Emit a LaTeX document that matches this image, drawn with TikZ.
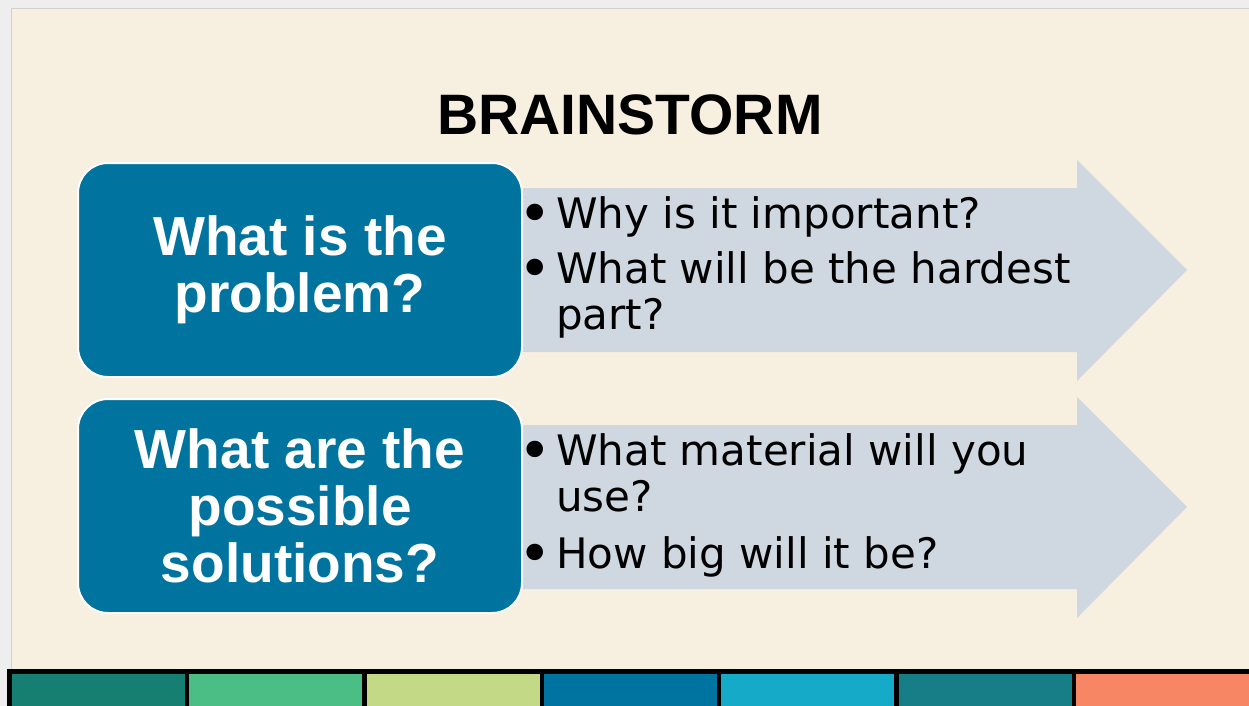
\documentclass[tikz,border=0pt]{standalone}
\usepackage{fontspec}
\usepackage{graphicx}
\setmainfont{Liberation Sans}
\newfontfamily\bulletfont{DejaVu Sans}
\newcommand{\dotmark}{\llap{\makebox[42pt][c]{\raisebox{-5pt}{\scalebox{1.35}{\textbullet}}}}}
\definecolor{outerbg}{HTML}{EEEEEE}
\definecolor{slidebg}{HTML}{F7EFDF}
\definecolor{boxblue}{HTML}{00739F}
\definecolor{arrowgray}{HTML}{CFD8E1}
\definecolor{stripA}{HTML}{167F72}
\definecolor{stripB}{HTML}{4BBE86}
\definecolor{stripC}{HTML}{C3D985}
\definecolor{stripD}{HTML}{0074A0}
\definecolor{stripE}{HTML}{14AAC8}
\definecolor{stripF}{HTML}{177D87}
\definecolor{stripG}{HTML}{F68664}

\begin{document}
\begin{tikzpicture}[
    x=1pt, y=-1pt,
    question/.style={
        rounded corners=30pt,
        fill=boxblue, draw=white, line width=2pt,
        minimum width=444pt, minimum height=214pt,
        text=white, align=center,
        font=\bfseries\fontsize{55}{57}\selectfont
    },
    bullet/.style={
        anchor=base west, inner sep=0pt, align=left,
        font=\bulletfont\fontsize{42}{46}\selectfont
    },
    heading/.style={
        anchor=base, inner sep=0pt,
        font=\bfseries\fontsize{57}{60}\selectfont
    }
]
\useasboundingbox (0,0) rectangle (1249,706);
\clip (0,0) rectangle (1249,706);
\fill[outerbg] (0,0) rectangle (1249,706);
\filldraw[fill=slidebg, draw=black!18, line width=1pt] (11,9) rectangle (1270,690);

\fill[arrowgray] (505,188) -- (1077,188) -- (1077,160) -- (1187,270)
    -- (1077,381) -- (1077,352) -- (505,352) -- cycle;
\fill[arrowgray] (505,425) -- (1077,425) -- (1077,397) -- (1187,507)
    -- (1077,618) -- (1077,589) -- (505,589) -- cycle;

\node[heading] (title) at (630,135) {BRAINSTORM};

\node[question] (problem) at (300,270) {What is the\\problem?};
\node[question] (solutions) at (300,506) {What are the\\possible\\solutions?};

% base anchor sits on the last line
\node[bullet] (why) at (556,228) {\dotmark Why is it important?};
\node[bullet] (hardest) at (556,329) {\dotmark What will be the hardest\\part?};
\node[bullet] (material) at (556,511) {\dotmark What material will you\\use?};
\node[bullet] (size) at (556,568) {\dotmark How big will it be?};

\fill[black] (7,669) rectangle (1249,706);
\fill[stripA] (12,674) rectangle (185,706);
\fill[stripB] (189.3,674) rectangle (362.3,706);
\fill[stripC] (366.6,674) rectangle (539.6,706);
\fill[stripD] (543.9,674) rectangle (716.9,706);
\fill[stripE] (721.2,674) rectangle (894.2,706);
\fill[stripF] (898.5,674) rectangle (1071.5,706);
\fill[stripG] (1075.8,674) rectangle (1249,706);
\end{tikzpicture}
\end{document}
